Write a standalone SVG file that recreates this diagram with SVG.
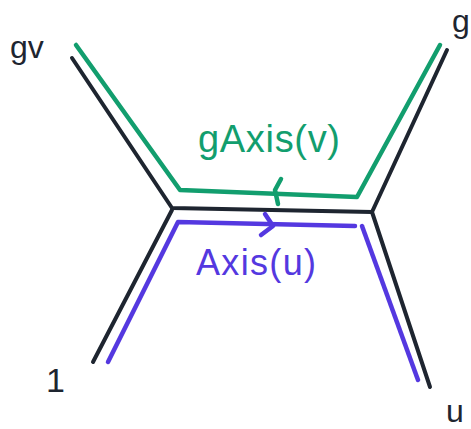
<svg xmlns="http://www.w3.org/2000/svg" width="471" height="429" viewBox="0 0 471 429">
<style>
.k{fill:none;stroke:#1e2530;stroke-width:4;stroke-linecap:round;stroke-linejoin:round}
.g{fill:none;stroke:#129e6e;stroke-width:4.5;stroke-linecap:round;stroke-linejoin:round}
.p{fill:none;stroke:#5438e0;stroke-width:4.5;stroke-linecap:round;stroke-linejoin:round}
.t{font-family:"Liberation Sans",Arial,sans-serif}
</style>
<rect width="471" height="429" fill="#fff"/>
<g id="connectors">
<path class="k" d="M72,58 L172,208 L372,212 L447,50"/>
<path class="k" d="M93,362 L172,210"/>
<path class="k" d="M372,212 L430,387"/>
<path class="g" d="M76,45 L180,190 L357,197 L440,45"/>
<path class="g" d="M281,179 L275,190 L278,204"/>
<path class="p" d="M108,362 L178,222 L355,226"/>
<path class="p" d="M362,226 L418,380"/>
<path class="p" d="M265,214 L273,226 L261,235"/>
</g>
<g id="label-gv"><text class="t" x="10" y="58" font-size="32" fill="#1e2530">gv</text></g>
<g id="label-g"><text class="t" x="452" y="32" font-size="32" fill="#1e2530">g</text></g>
<g id="label-gAxis"><text class="t" x="198" y="152" font-size="38" fill="#129e6e" textLength="142">gAxis(v)</text></g>
<g id="label-Axis"><text class="t" x="196" y="275" font-size="36" fill="#5438e0" textLength="120">Axis(u)</text></g>
<g id="label-1"><text class="t" x="46" y="392" font-size="34" fill="#1e2530">1</text></g>
<g id="label-u"><text class="t" x="446" y="422" font-size="32" fill="#1e2530">u</text></g>
</svg>
